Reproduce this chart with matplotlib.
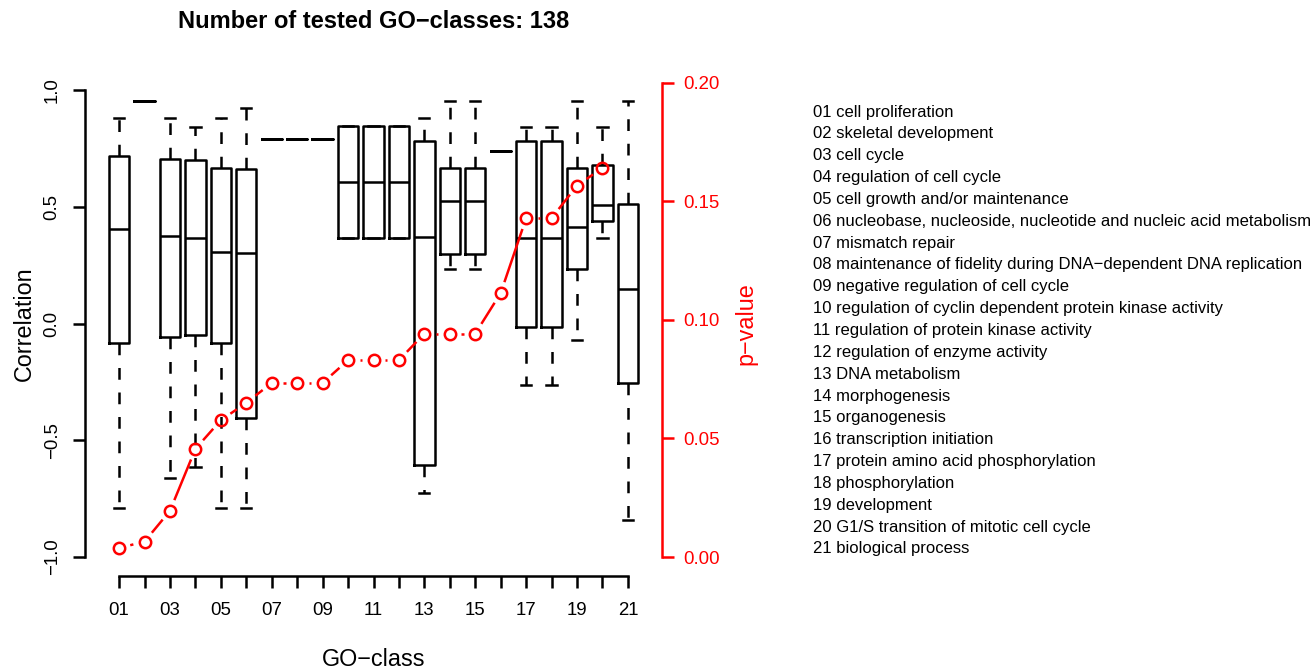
import matplotlib
matplotlib.use("Agg")
import matplotlib.pyplot as plt
import numpy as np

plt.rcParams['font.family'] = ['Liberation Sans', 'DejaVu Sans']

# GO classes (x positions 1..21)
go_names = [
    "cell proliferation",
    "skeletal development",
    "cell cycle",
    "regulation of cell cycle",
    "cell growth and/or maintenance",
    "nucleobase, nucleoside, nucleotide and nucleic acid metabolism",
    "mismatch repair",
    "maintenance of fidelity during DNA\u2212dependent DNA replication",
    "negative regulation of cell cycle",
    "regulation of cyclin dependent protein kinase activity",
    "regulation of protein kinase activity",
    "regulation of enzyme activity",
    "DNA metabolism",
    "morphogenesis",
    "organogenesis",
    "transcription initiation",
    "protein amino acid phosphorylation",
    "phosphorylation",
    "development",
    "G1/S transition of mitotic cell cycle",
    "biological process",
]

# correlation box statistics per class
whis_lo = [-0.792, 0.953, -0.663, -0.613, -0.792, -0.792, 0.790, 0.790, 0.790, 0.366, 0.366,
           0.366, -0.725, 0.232, 0.232, 0.740, -0.263, -0.263, -0.071, 0.367, -0.842]
q1 = [-0.085, 0.953, -0.056, -0.049, -0.085, -0.403, 0.790, 0.790, 0.790, 0.366, 0.366,
      0.366, -0.606, 0.298, 0.298, 0.740, -0.016, -0.016, 0.232, 0.438, -0.253]
med = [0.406, 0.953, 0.375, 0.365, 0.308, 0.303, 0.790, 0.790, 0.790, 0.607, 0.607,
       0.607, 0.372, 0.526, 0.526, 0.740, 0.366, 0.366, 0.415, 0.507, 0.146]
q3 = [0.717, 0.953, 0.704, 0.700, 0.665, 0.660, 0.790, 0.790, 0.790, 0.846, 0.846,
      0.846, 0.782, 0.665, 0.665, 0.740, 0.783, 0.783, 0.665, 0.678, 0.512]
whis_hi = [0.879, 0.953, 0.879, 0.843, 0.879, 0.924, 0.790, 0.790, 0.790, 0.846, 0.846,
           0.846, 0.881, 0.953, 0.953, 0.740, 0.843, 0.843, 0.953, 0.843, 0.953]

# p-values for classes 01..20
pvals = [0.0038, 0.0065, 0.0195, 0.0456, 0.0577, 0.0650, 0.0734, 0.0734, 0.0734, 0.0830,
         0.0830, 0.0830, 0.0942, 0.0942, 0.0942, 0.1113, 0.1429, 0.1429, 0.1566, 0.1641]

n = len(go_names)
positions = np.arange(1, n + 1)
codes = ["%02d" % i for i in positions]

W, H = 1316, 669
fig = plt.figure(figsize=(W / 100, H / 100), dpi=100)
left_px, right_px, top_px, bot_px = 85.0, 662.0, 71.3, 575.7
ax = fig.add_axes([left_px / W, 1 - bot_px / H, (right_px - left_px) / W, (bot_px - top_px) / H])

lw = 1.8
stats = [dict(whislo=whis_lo[i], q1=q1[i], med=med[i], q3=q3[i], whishi=whis_hi[i]) for i in range(n)]
ax.bxp(stats, positions=positions, widths=0.8, capwidths=0.4, showfliers=False,
       boxprops=dict(color='black', lw=lw),
       medianprops=dict(color='black', lw=lw),
       whiskerprops=dict(color='black', lw=lw, linestyle=(0, (4.7, 5.1))),
       capprops=dict(color='black', lw=lw))

ax.set_xlim(-0.34, n + 1.34)
ax.set_ylim(-1.08, 1.08)
for s in ['top', 'right']:
    ax.spines[s].set_visible(False)
ax.spines['left'].set_bounds(-1, 1)
ax.spines['bottom'].set_bounds(1, n)
ax.spines['left'].set_linewidth(lw)
ax.spines['bottom'].set_linewidth(lw)

ax.set_xticks(positions)
ax.set_xticklabels([c if i % 2 == 0 else "" for i, c in enumerate(codes)])
yt = [-1.0, -0.5, 0.0, 0.5, 1.0]
ax.set_yticks(yt)
ax.set_yticklabels([("%.1f" % v).replace("-", "\u2212") for v in yt], rotation=90, va='center')
ax.tick_params(axis='both', length=8.6, width=lw, labelsize=13.4)
ax.tick_params(axis='x', pad=10)
ax.tick_params(axis='y', pad=9)
ax.set_xlabel("GO\u2212class", fontsize=16.8, labelpad=21)
ax.set_ylabel("Correlation", fontsize=16.8, labelpad=5.5)
fig.text((left_px + right_px) / 2 / W, 1 - 22 / H, "Number of tested GO\u2212classes: 138",
         fontsize=17, fontweight='bold', ha='center', va='center')

# p-value axis
ax2 = ax.twinx()
prange = 1.2 * max(pvals)
ax2.set_ylim(-0.04 * prange, prange * 1.04)
ax2.set_xlim(ax.get_xlim())
for s in ['top', 'left', 'bottom']:
    ax2.spines[s].set_visible(False)
ax2.spines['right'].set_bounds(0, 0.2)
ax2.spines['right'].set_color('red')
ax2.spines['right'].set_linewidth(lw)
pt = [0.0, 0.05, 0.10, 0.15, 0.20]
ax2.set_yticks(pt)
ax2.set_yticklabels(["%.2f" % v for v in pt])
ax2.tick_params(axis='y', colors='red', length=8.6, width=lw, labelsize=13.4, pad=7)
ax2.set_ylabel("p\u2212value", color='red', fontsize=16.8, labelpad=10.5)

# type="b" style: points plus segments with gaps
px = positions[:len(pvals)]
ax2.plot(px, pvals, linestyle='none', marker='o', markersize=8.2, markerfacecolor='none',
         markeredgecolor='red', markeredgewidth=lw)
gap = 11.5
pts = ax2.transData.transform(np.column_stack([px, pvals]))
inv = ax2.transData.inverted()
for i in range(len(pts) - 1):
    d = pts[i + 1] - pts[i]
    L = np.hypot(*d)
    if L > 2 * gap:
        a = pts[i] + d / L * gap
        b = pts[i + 1] - d / L * gap
        seg = inv.transform(np.array([a, b]))
        ax2.plot(seg[:, 0], seg[:, 1], color='red', lw=lw, solid_capstyle='butt')

# class legend on the right
y0, dy = 112, 21.85
for i, name in enumerate(go_names):
    fig.text(813 / W, 1 - (y0 + i * dy) / H, "%s %s" % (codes[i], name),
             fontsize=12, va='center', ha='left')

fig.savefig("out.png", dpi=100)
